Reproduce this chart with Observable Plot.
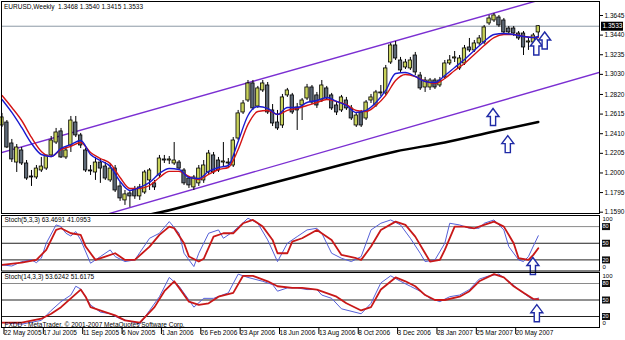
<!DOCTYPE html>
<html><head><meta charset="utf-8">
<script src="https://cdn.jsdelivr.net/npm/d3@7"></script>
<script src="https://cdn.jsdelivr.net/npm/@observablehq/plot@0.6"></script>
<style>
body{margin:0;background:#fff;}
#chart{position:relative;width:625px;height:340px;background:#fff;overflow:hidden;font-family:"Liberation Sans",Arial,sans-serif;}
#chart svg{position:absolute;left:0;overflow:visible;}
.t{position:absolute;font-size:6.5px;color:#000;white-space:pre;}
</style></head><body><div id="chart"></div>
<script>
// ---- price data (weekly bars, index 0 = 22 May 2005) ----
const candleOpen = [1.2496,1.2527,1.2308,1.2109,1.2235,1.2099,1.1963,1.1953,1.2026,1.2046,1.2183,1.2318,1.2434,1.2162,1.2287,1.2527,1.2392,1.2235,1.2026,1.2005,1.2109,1.2067,1.1922,1.2046,1.1859,1.1713,1.1786,1.1828,1.1755,1.1796,1.1922,1.1891,1.1974,1.2141,1.2130,1.2099,1.2109,1.2026,1.1942,1.1849,1.1891,1.1922,1.2005,1.2183,1.2130,1.2109,1.2099,1.2078,1.2360,1.2632,1.2757,1.2935,1.2694,1.2862,1.2914,1.2653,1.2527,1.2496,1.2810,1.2810,1.2684,1.2705,1.2778,1.2893,1.2810,1.2757,1.2883,1.2810,1.2705,1.2653,1.2757,1.2674,1.2496,1.2632,1.2569,1.2757,1.2705,1.2831,1.2831,1.3154,1.3332,1.3175,1.3102,1.3092,1.3227,1.3018,1.2893,1.2893,1.2966,1.2914,1.2998,1.3144,1.3196,1.3092,1.3144,1.3311,1.3280,1.3353,1.3363,1.3562,1.3593,1.3624,1.3593,1.3509,1.3509,1.3457,1.3457,1.3363,1.3363,1.3468];
const candleHigh = [1.2622,1.2548,1.2350,1.2297,1.2266,1.2130,1.2026,1.2078,1.2162,1.2151,1.2381,1.2465,1.2465,1.2266,1.2590,1.2590,1.2413,1.2255,1.2078,1.2162,1.2141,1.2109,1.2099,1.2078,1.1901,1.1817,1.1817,1.1859,1.1880,1.2026,1.2046,1.1922,1.2183,1.2183,1.2172,1.2318,1.2130,1.2046,1.1963,1.1974,1.2078,1.2130,1.2235,1.2214,1.2162,1.2318,1.2151,1.2370,1.2653,1.2757,1.2966,1.2966,1.2904,1.2966,1.2945,1.2715,1.2653,1.2820,1.2883,1.2831,1.2726,1.2778,1.2925,1.2914,1.2841,1.2966,1.2904,1.2831,1.2736,1.2810,1.2789,1.2705,1.2622,1.2653,1.2757,1.2820,1.2862,1.2914,1.3123,1.3353,1.3374,1.3207,1.3186,1.3207,1.3259,1.3050,1.2998,1.2987,1.2987,1.2998,1.3175,1.3227,1.3269,1.3227,1.3332,1.3405,1.3384,1.3436,1.3541,1.3645,1.3666,1.3645,1.3614,1.3530,1.3530,1.3478,1.3478,1.3405,1.3457,1.3540];
const candleLow = [1.2475,1.2255,1.2109,1.2005,1.2078,1.1922,1.1859,1.1932,1.2005,1.2026,1.2162,1.2297,1.2151,1.2141,1.2214,1.2370,1.2255,1.2005,1.1974,1.1922,1.1891,1.1922,1.1901,1.1796,1.1703,1.1661,1.1640,1.1724,1.1713,1.1776,1.1817,1.1817,1.1942,1.2099,1.2088,1.2078,1.2026,1.1870,1.1838,1.1817,1.1859,1.1891,1.1984,1.1984,1.2005,1.2067,1.2046,1.2057,1.2339,1.2611,1.2736,1.2653,1.2674,1.2841,1.2611,1.2485,1.2444,1.2465,1.2789,1.2611,1.2444,1.2548,1.2757,1.2715,1.2674,1.2736,1.2757,1.2653,1.2600,1.2632,1.2653,1.2548,1.2475,1.2475,1.2548,1.2726,1.2684,1.2799,1.2810,1.3133,1.3175,1.3050,1.3081,1.3071,1.3018,1.2862,1.2841,1.2862,1.2872,1.2893,1.2977,1.3123,1.3154,1.3071,1.3123,1.3259,1.3259,1.3332,1.3342,1.3541,1.3572,1.3520,1.3447,1.3447,1.3426,1.3384,1.3227,1.3280,1.3342,1.3415];
const candleClose = [1.2580,1.2266,1.2141,1.2266,1.2099,1.1942,1.1953,1.2046,1.2067,1.2183,1.2339,1.2423,1.2162,1.2235,1.2548,1.2392,1.2287,1.2026,1.2016,1.2109,1.2046,1.1942,1.2046,1.1817,1.1734,1.1776,1.1755,1.1755,1.1849,1.2005,1.2026,1.1849,1.2151,1.2130,1.2141,1.2130,1.2046,1.1891,1.1870,1.1953,1.2046,1.2078,1.2203,1.2005,1.2026,1.2120,1.2109,1.2339,1.2622,1.2726,1.2935,1.2674,1.2883,1.2935,1.2632,1.2517,1.2465,1.2789,1.2862,1.2632,1.2653,1.2757,1.2893,1.2736,1.2705,1.2914,1.2778,1.2674,1.2632,1.2789,1.2674,1.2569,1.2600,1.2496,1.2736,1.2789,1.2841,1.2841,1.3092,1.3332,1.3196,1.3071,1.3154,1.3175,1.3050,1.2883,1.2966,1.2966,1.2893,1.2966,1.3144,1.3175,1.3207,1.3196,1.3301,1.3280,1.3353,1.3405,1.3520,1.3614,1.3645,1.3541,1.3468,1.3468,1.3457,1.3405,1.3311,1.3374,1.3436,1.3533];

// moving averages, read at even bar indices (+ last bar)
const maIdx  = [0,2,4,6,8,10,12,14,16,18,20,22,24,26,28,30,32,34,36,38,40,42,44,46,48,50,52,54,56,58,60,62,64,66,68,70,72,74,76,78,80,82,84,86,88,90,92,94,96,98,100,102,104,106,108,109];
const maFast = [1.2768,1.2632,1.2475,1.2308,1.2193,1.2172,1.2256,1.2297,1.2339,1.2193,1.2130,1.2068,1.1911,1.1817,1.1849,1.1901,1.1995,1.2047,1.2036,1.1953,1.1942,1.2016,1.2057,1.2078,1.2329,1.2600,1.2694,1.2674,1.2611,1.2684,1.2684,1.2736,1.2757,1.2789,1.2747,1.2705,1.2632,1.2653,1.2736,1.2862,1.3039,1.3050,1.3008,1.2956,1.2945,1.3018,1.3102,1.3186,1.3280,1.3374,1.3447,1.3457,1.3447,1.3426,1.3415,1.3426];
const maSlow = [1.2810,1.2684,1.2548,1.2371,1.2225,1.2172,1.2245,1.2277,1.2318,1.2214,1.2151,1.2099,1.1953,1.1838,1.1838,1.1869,1.1953,1.2016,1.2016,1.1963,1.1932,1.1984,1.2036,1.2057,1.2245,1.2507,1.2642,1.2653,1.2611,1.2653,1.2674,1.2705,1.2736,1.2768,1.2747,1.2715,1.2653,1.2642,1.2705,1.2810,1.2966,1.3029,1.3008,1.2956,1.2935,1.2987,1.3071,1.3144,1.3238,1.3332,1.3415,1.3447,1.3447,1.3426,1.3415,1.3415];
const maLongIdx = [28,32,40,50,60,70,80,90,100,109];
const maLong    = [1.1545,1.1587,1.1692,1.1828,1.1963,1.2099,1.2225,1.2318,1.2433,1.2533];

// channel trend lines (two anchors each)
const chanUpperIdx = [-0.3,121.44], chanUpper = [1.2209,1.3984];
const chanLowerIdx = [-0.3,121.44], chanLower = [1.1249,1.3050];
const bidPrice = 1.3533;
const priceTicks = [1.3645,1.3440,1.3235,1.3030,1.2820,1.2615,1.2410,1.2205,1.2000,1.1795,1.1590];

// arrows
const arrowMainIdx = [99.8,102.8,108.6,110.3];
const arrowMainPrice = [1.2585,1.2301,1.3321,1.3384];

// Stochastic (5,3,3)
const s1kIdx = [0,2,4,6,7,8,9,11,12,13,14,15,16,18,19,20,22,23,25,27,30,32,34,36,37,39,40,42,44,45,47,50,52,54,56,58,60,62,64,65,67,69,71,73,75,77,79,81,83,85,86,88,90,91,93,95,97,98,100,102,103,105,106,107,108,109];
const s1k    = [11,9,17,20,15,23,50,83,80,68,63,71,56,14,20,26,38,26,17,20,59,68,89,68,32,8,32,68,74,59,71,95,86,56,17,50,62,74,77,68,32,23,17,26,74,86,92,83,59,32,17,20,50,86,83,77,77,86,92,74,44,20,17,26,45,63.47];
const s1dIdx = [0,4,7,9,11,12,14,16,17,19,21,23,25,27,30,32,34,35,37,38,40,41,43,45,47,49,51,53,55,56,58,59,61,64,67,69,72,73,75,77,80,82,84,86,87,89,90,92,94,96,98,100,102,104,105,107,108,109];
const s1d    = [11,15,20,38,74,77,68,65,44,20,26,32,20,20,44,65,80,77,50,26,17,22,62,68,68,86,92,80,56,32,32,53,59,74,56,29,23,20,44,74,89,83,62,32,17,20,38,80,80,77,83,89,80,50,23,20,29,41.1];
// Stochastic (14,3,3)
const s2kIdx = [0,4,8,10,12,14,15,16,18,20,22,24,27,28,30,32,34,36,38,39,41,43,46,48,50,53,55,56,58,60,62,64,65,67,69,73,75,77,79,81,83,85,87,89,91,93,95,97,99,101,103,105,107,108,109];
const s2k    = [9,6,13,31,47,59,75,70,41,28,25,16,9,6,31,56,91,75,50,37,53,53,63,97,91,84,78,66,72,72,69,69,59,53,34,25,44,81,94,84,75,66,53,47,56,59,69,88,94,97,84,69,56,50,53.62];
const s2dIdx = [0,4,8,10,12,14,16,17,18,21,23,25,28,31,33,35,36,38,40,42,44,47,49,51,54,56,59,61,64,68,70,73,75,77,80,82,84,86,88,90,93,95,97,100,102,104,106,108,109];
const s2d    = [9,9,16,25,37,53,69,56,37,28,22,13,9,37,66,84,72,47,41,44,56,63,94,94,84,75,72,72,69,56,44,31,37,69,91,84,75,59,50,50,56,66,84,97,91,75,63,52,51.62];

const arrowS1Idx = [107.9], arrowS1 = [9];
const arrowS2Idx = [108.7], arrowS2 = [26];

const tickIdx = [0,8,16,24,32,40,48,56,64,72,80,88,96,104];
const tickLabels = ["22 May 2005","17 Jul 2005","11 Sep 2005","6 Nov 2005","1 Jan 2006","26 Feb 2006","23 Apr 2006","18 Jun 2006","13 Aug 2006","8 Oct 2006","3 Dec 2006","28 Jan 2007","25 Mar 2007","20 May 2007"];

// ---- build ----
const bars = candleOpen.map((o,i)=>({i,o,h:candleHigh[i],l:candleLow[i],c:candleClose[i]}));
const pts = (idx, vals) => idx.map((x,k)=>({x, v: vals[k]}));
const xDomain = [-0.3, 121.44];
const FONT = "Liberation Sans, Arial, sans-serif";
const purple = "#7b2fd2";
const arrowSym = {draw(ctx){const w=6,h=8.5,s=2.6,hy=-0.5;ctx.moveTo(0,-h);ctx.lineTo(w,hy);ctx.lineTo(s,hy);ctx.lineTo(s,h);ctx.lineTo(-s,h);ctx.lineTo(-s,hy);ctx.lineTo(-w,hy);ctx.closePath();}};
const boxSym = (w,h)=>({draw(ctx){ctx.rect(-w/2,-h/2,w,h);}});

const root = document.getElementById("chart");
function place(svg, top){ svg.style.top = top+"px"; root.appendChild(svg); }

const main = Plot.plot({
  width: 625, height: 214, marginLeft: 1, marginRight: 26, marginTop: 1, marginBottom: 1,
  style: {fontFamily: FONT, fontSize: "6.5px", background: "transparent", overflow: "visible"},
  x: {domain: xDomain, range: [0, 599], axis: null},
  y: {domain: [1.1590, 1.3645], range: [211.7, 15], axis: null},
  marks: [
    Plot.ruleY([bidPrice], {stroke: "#8d99a6", strokeWidth: 1}),
    Plot.line(pts(chanUpperIdx, chanUpper), {x: "x", y: "v", stroke: purple, strokeWidth: 1.4, clip: true}),
    Plot.line(pts(chanLowerIdx, chanLower), {x: "x", y: "v", stroke: purple, strokeWidth: 1.4, clip: true}),
    Plot.line(pts(maLongIdx, maLong), {x: "x", y: "v", stroke: "#000", strokeWidth: 2.5, curve: "monotone-x", clip: true}),
    Plot.ruleX(bars, {x: "i", y1: "l", y2: "h", stroke: "#000", strokeWidth: 1}),
    Plot.rect(bars, {x1: d => d.i - 0.34, x2: d => d.i + 0.34, y1: "o", y2: "c",
      fill: d => d.c >= d.o ? "#c8d25a" : "#5d6875", stroke: "#000", strokeWidth: 0.8}),
    Plot.line(pts(maIdx, maSlow), {x: "x", y: "v", stroke: "#d41414", strokeWidth: 1.4, curve: "monotone-x"}),
    Plot.line(pts(maIdx, maFast), {x: "x", y: "v", stroke: "#1a1ad0", strokeWidth: 1.4, curve: "monotone-x"}),
    Plot.dot(pts(arrowMainIdx, arrowMainPrice), {x: "x", y: "v", symbol: arrowSym, r: 8, fill: "#fff", stroke: "#1f2aa6", strokeWidth: 1.4}),
    Plot.axisY({anchor: "right", ticks: priceTicks, tickFormat: d => d.toFixed(4), tickSize: 3, tickPadding: 2, fontSize: 6.5, label: null}),
    Plot.dot([bidPrice], {y: d => d, frameAnchor: "right", dx: 12.5, symbol: boxSym(22, 9), fill: "#000"}),
    Plot.text([bidPrice], {y: d => d, frameAnchor: "right", dx: 3, textAnchor: "start", text: d => d.toFixed(4), fill: "#fff", fontSize: 6.5}),
    Plot.frame({stroke: "#000"})
  ]
});
place(main, 0);

function stochPanel(kIdx, k, dIdx, dv, aIdx, a, label, height, mb, withAxis){
  return Plot.plot({
    width: 625, height, marginLeft: 1, marginRight: 26, marginTop: 1, marginBottom: mb,
    style: {fontFamily: FONT, fontSize: "6.5px", background: "transparent", overflow: "visible"},
    x: {domain: xDomain, range: [0, 599], axis: null},
    y: {domain: [0, 100], axis: null},
    marks: [
      Plot.ruleY([80], {stroke: "#8a8a8a"}),
      Plot.ruleY([50, 20], {stroke: "#222"}),
      Plot.line(pts(kIdx, k), {x: "x", y: "v", stroke: "#5560d8", strokeWidth: 1}),
      Plot.line(pts(dIdx, dv), {x: "x", y: "v", stroke: "#c81818", strokeWidth: 1.8}),
      Plot.dot(pts(aIdx, a), {x: "x", y: "v", symbol: arrowSym, r: 8, fill: "#fff", stroke: "#1f2aa6", strokeWidth: 1.4}),
      Plot.text([label], {frameAnchor: "top-left", dx: 3, dy: 2, fontSize: 6.5, fill: "#000"}),
      Plot.text([100], {y: d => d, frameAnchor: "right", dx: 3, dy: 4, textAnchor: "start", text: d => String(d), fontSize: 6}),
      Plot.text([0], {y: d => d, frameAnchor: "right", dx: 3, dy: -4, textAnchor: "start", text: d => String(d), fontSize: 6}),
      Plot.dot([80, 50, 20], {y: d => d, frameAnchor: "right", dx: 6.5, symbol: boxSym(8, 7), fill: "#111"}),
      Plot.text([80, 50, 20], {y: d => d, frameAnchor: "right", dx: 3, textAnchor: "start", text: d => String(d), fill: "#fff", fontSize: 5.5}),
      ...(withAxis ? [
        Plot.axisX({ticks: tickIdx, tickFormat: d => tickLabels[tickIdx.indexOf(d)], tickSize: 7, tickPadding: -4, textAnchor: "start", dx: 2, fontSize: 6.5, label: null}),
        Plot.text(["FXDD - MetaTrader, \u00a9 2001-2007 MetaQuotes Software Corp."], {frameAnchor: "bottom-left", dx: 3, dy: -1, fontSize: 6.5, fill: "#000"})
      ] : []),
      Plot.frame({stroke: "#000"})
    ]
  });
}
place(stochPanel(s1kIdx, s1k, s1dIdx, s1d, arrowS1Idx, arrowS1, "Stoch(5,3,3) 63.4691 41.0953", 58, 1.5, false), 214);
place(stochPanel(s2kIdx, s2k, s2dIdx, s2d, arrowS2Idx, arrowS2, "Stoch(14,3,3) 53.6242 51.6175", 69, 13, true), 271);

const title = document.createElement("div");
title.className = "t"; title.style.left = "4px"; title.style.top = "3px";
title.textContent = "EURUSD,Weekly  1.3468 1.3540 1.3415 1.3533";
root.appendChild(title);
</script></body></html>
